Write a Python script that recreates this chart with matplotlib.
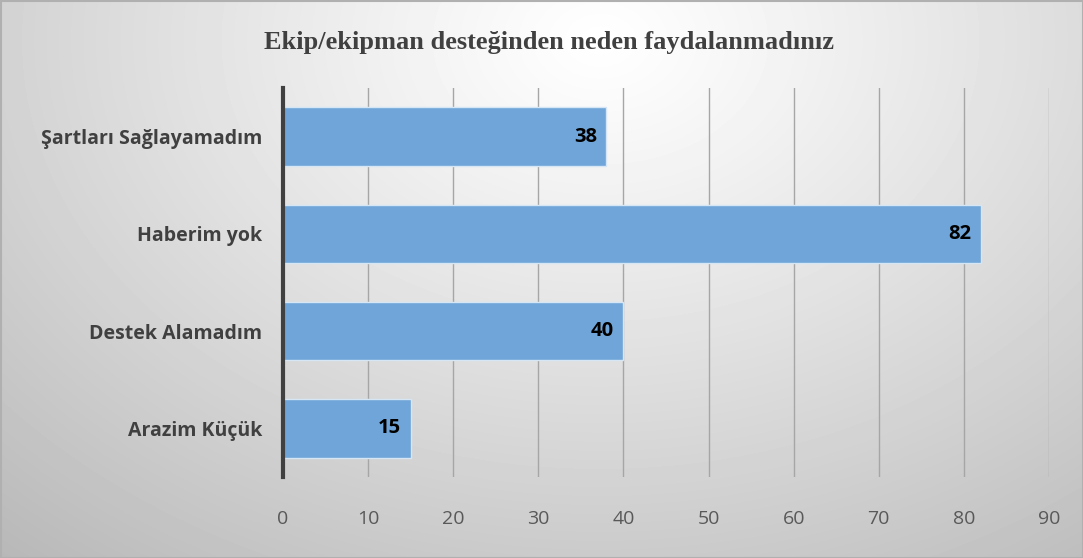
import numpy as np
import matplotlib.pyplot as plt

# data
categories = ["Arazim Küçük", "Destek Alamadım", "Haberim yok", "Şartları Sağlayamadım"]
values = [15, 40, 82, 38]
xticks = [0, 10, 20, 30, 40, 50, 60, 70, 80, 90]
title = "Ekip/ekipman desteğinden neden faydalanmadınız"

W, H = 1083, 558
fig = plt.figure(figsize=(W / 100, H / 100), dpi=100)

# radial grey background, light near the top centre
bg = fig.add_axes([0, 0, 1, 1], zorder=-10)
yy, xx = np.mgrid[0:H, 0:W]
r = np.sqrt(((xx - 600) / 1.0) ** 2 + ((yy - 40) * 1.35) ** 2)
r = r / r.max()
shade = 1.0 - 0.28 * np.clip(r, 0, 1) ** 1.1
bg.imshow(shade, cmap="gray", vmin=0, vmax=1, aspect="auto", extent=[0, W, H, 0])
bg.plot([0.5, W - 0.5, W - 0.5, 0.5, 0.5], [0.5, 0.5, H - 0.5, H - 0.5, 0.5],
        color="#b0b0b0", lw=1.5)
bg.set_xlim(0, W)
bg.set_ylim(H, 0)
bg.axis("off")

ax = fig.add_axes([283 / W, 1 - 477 / H, (1049 - 283) / W, (477 - 88) / H])
ax.patch.set_alpha(0)

y = np.arange(len(categories))
ax.barh(y, values, height=0.6, color="#6fa5d8", edgecolor="#d6e6f5", linewidth=1, zorder=3)

for yi, v in zip(y, values):
    ax.text(v - 1.1, yi, str(v), ha="right", va="center", fontsize=14.5,
            fontweight="bold", family="Open Sans", color="black", zorder=4)

ax.set_xlim(0, 90)
ax.set_ylim(-0.5, len(categories) - 0.5)
ax.set_xticks(xticks)
ax.set_xticklabels([str(t) for t in xticks], fontsize=14, family="Open Sans", color="#595959")
ax.set_yticks(y)
ax.set_yticklabels(categories, fontsize=14, fontweight="bold", family="Open Sans", color="#404040")
ax.tick_params(axis="x", length=0, pad=24)
ax.tick_params(axis="y", length=0, pad=15)

ax.grid(axis="x", color="#a6a6a6", lw=1, zorder=0)
for s in ["top", "right", "bottom"]:
    ax.spines[s].set_visible(False)
ax.spines["left"].set_color("#404040")
ax.spines["left"].set_linewidth(3)
ax.spines["left"].set_zorder(5)

fig.text(549 / W, 1 - 43 / H, title, ha="center", va="center", fontsize=19,
         fontweight="bold", family="Liberation Serif", color="#404040")

fig.savefig("out.png", dpi=100)
